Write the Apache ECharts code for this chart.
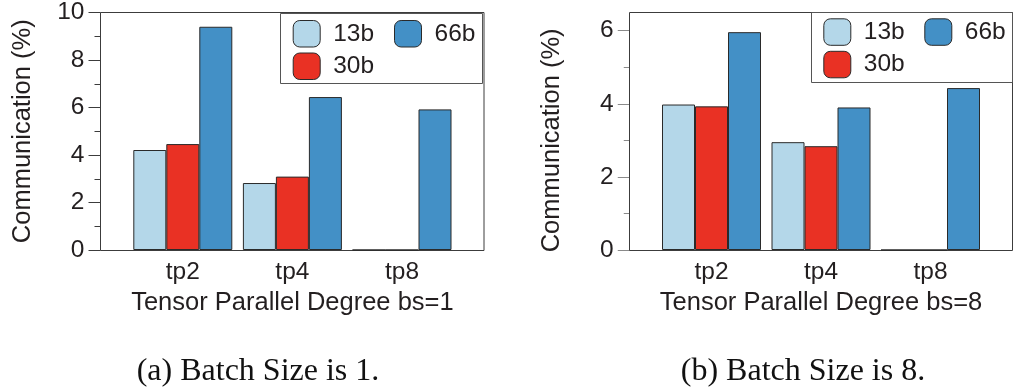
<!DOCTYPE html>
<html>
<head>
<meta charset="utf-8">
<script src="https://cdn.jsdelivr.net/npm/echarts@6/dist/echarts.min.js"></script>
<style>
  html, body { margin: 0; padding: 0; background: #fff; }
  #chart { width: 1013px; height: 392px; }
</style>
</head>
<body>
<div id="chart"></div>
<script>
// Tensor-parallel degrees on the x axis
const categories = ['tp2', 'tp4', 'tp8'];
const modelNames = ['13b', '30b', '66b'];

// Communication share (%) at batch size 1
const bs1_13b = [4.21, 2.82, 0];
const bs1_30b = [4.46, 3.09, 0];
const bs1_66b = [9.40, 6.44, 5.92];

// Communication share (%) at batch size 8
const bs8_13b = [3.98, 2.95, 0];
const bs8_30b = [3.93, 2.84, 0];
const bs8_66b = [5.96, 3.90, 4.43];

const yTicksLeft = { min: 0, max: 10, interval: 2 };
const yTicksRight = { min: 0, max: 6, interval: 2 };

const captions = ['(a) Batch Size is 1.', '(b) Batch Size is 8.'];
const xTitles = ['Tensor Parallel Degree bs=1', 'Tensor Parallel Degree bs=8'];
const yTitle = 'Communication (%)';

const colors = { '13b': '#b4d7e9', '30b': '#e93124', '66b': '#4390c6' };
const FONT = '"Liberation Sans", Arial, Helvetica, sans-serif';
const TXT = '#231f20';

const chart = echarts.init(document.getElementById('chart'), null, { renderer: 'canvas' });

function makeSeries(gridIdx, arrays) {
  return modelNames.map((name, i) => ({
    name: name,
    type: 'bar',
    xAxisIndex: gridIdx,
    yAxisIndex: gridIdx,
    data: arrays[i],
    barWidth: 33,
    barGap: '0%',
    itemStyle: { color: colors[name], borderColor: '#2a2a2a', borderWidth: 1 },
    emphasis: { disabled: true },
    animation: false
  }));
}

function makeYAxis(gridIdx, ticks, offset, tickColor) {
  return {
    type: 'value',
    gridIndex: gridIdx,
    min: ticks.min,
    max: ticks.max,
    interval: ticks.interval,
    offset: offset,
    name: yTitle,
    nameLocation: 'middle',
    nameGap: 65,
    nameTextStyle: { fontFamily: FONT, fontSize: 25.5, color: TXT },
    axisLine: { show: false },
    axisTick: { show: true, length: 12, lineStyle: { color: tickColor, width: 1 } },
    minorTick: { show: true, splitNumber: 2, length: 6, lineStyle: { color: tickColor, width: 1 } },
    splitLine: { show: false },
    axisLabel: { margin: 16, fontFamily: FONT, fontSize: 24.5, color: TXT }
  };
}

function makeXAxis(gridIdx, title) {
  return {
    type: 'category',
    gridIndex: gridIdx,
    data: categories,
    name: title,
    nameLocation: 'middle',
    nameGap: 33,
    nameTextStyle: { fontFamily: FONT, fontSize: 25.5, color: TXT },
    axisLine: { show: false },
    axisTick: { show: false },
    axisLabel: { margin: 10, fontFamily: FONT, fontSize: 24.5, color: TXT }
  };
}

// One legend column; each panel gets two columns inside a shared box
function makeLegend(left, top, names) {
  return {
    type: 'plain',
    orient: 'vertical',
    left: left,
    top: top,
    padding: 0,
    itemWidth: 27,
    itemHeight: 26.5,
    itemGap: 5,
    icon: 'roundRect',
    selectedMode: false,
    itemStyle: { borderColor: '#2a2a2a', borderWidth: 1 },
    textStyle: { fontFamily: FONT, fontSize: 24.5, color: TXT, padding: [0, 0, 0, 8] },
    data: names
  };
}

function outline(x1, y1, x2, y2, color) {
  return {
    type: 'rect',
    silent: true,
    z: 1,
    shape: { x: x1, y: y1, width: x2 - x1, height: y2 - y1 },
    style: { fill: null, stroke: color, lineWidth: 1 }
  };
}

function caption(text, cx, cy) {
  return {
    type: 'text',
    silent: true,
    x: cx,
    y: cy,
    style: {
      text: text,
      fontFamily: '"Liberation Serif", "Times New Roman", serif',
      fontSize: 32,
      fill: '#111',
      textAlign: 'center',
      textVerticalAlign: 'middle'
    }
  };
}

const option = {
  backgroundColor: '#ffffff',
  animation: false,
  grid: [
    { left: 128, top: 12.5, width: 328.8, height: 237.5 },
    { left: 656.75, top: 30.7, width: 328.5, height: 219.3 }
  ],
  xAxis: [makeXAxis(0, xTitles[0]), makeXAxis(1, xTitles[1])],
  yAxis: [
    makeYAxis(0, yTicksLeft, 27.5, '#3c3c3c'),
    makeYAxis(1, yTicksRight, 27, '#8a8a8a')
  ],
  legend: [
    makeLegend(292.7, 20, ['13b', '30b']),
    makeLegend(394, 20, ['66b']),
    makeLegend(823.3, 18.3, ['13b', '30b']),
    makeLegend(924.3, 18.3, ['66b'])
  ],
  series: [
    ...makeSeries(0, [bs1_13b, bs1_30b, bs1_66b]),
    ...makeSeries(1, [bs8_13b, bs8_30b, bs8_66b])
  ],
  graphic: [
    // plot frames
    outline(100.5, 12.5, 484, 250.5, '#3c3c3c'),
    outline(629.5, 12.5, 1012.5, 250.5, '#3c3c3c'),
    // legend boxes
    outline(280.5, 13.5, 482.5, 83.5, '#555'),
    outline(811.5, 12.5, 1012.5, 82.5, '#555'),
    caption(captions[0], 258, 372),
    caption(captions[1], 803, 372)
  ]
};

chart.setOption(option);
</script>
</body>
</html>
